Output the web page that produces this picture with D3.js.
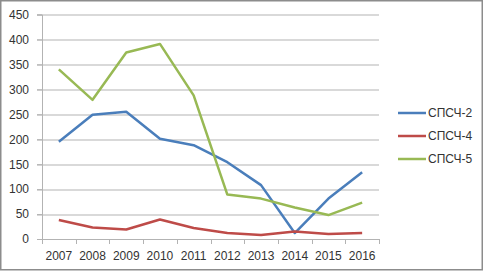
<!DOCTYPE html>
<html>
<head>
<meta charset="utf-8">
<script src="https://cdn.jsdelivr.net/npm/d3@7"></script>
<style>
  body { margin: 0; background: #fff; }
  svg { display: block; font-family: "Liberation Sans", Arial, sans-serif; }
</style>
</head>
<body>
<div id="chart"></div>
<script>
// data
const years = ["2007","2008","2009","2010","2011","2012","2013","2014","2015","2016"];
const spsch2 = [195, 249, 255, 201, 188, 154, 108, 12, 81, 134];
const spsch4 = [38, 23, 19, 39, 22, 12, 8, 15, 10, 12];
const spsch5 = [340, 279, 374, 391, 288, 89, 81, 63, 48, 73];
const yTicks = [0, 50, 100, 150, 200, 250, 300, 350, 400, 450];

const series = [
  { name: "СПСЧ-2", values: spsch2, color: "#4a7ebb" },
  { name: "СПСЧ-4", values: spsch4, color: "#be4b48" },
  { name: "СПСЧ-5", values: spsch5, color: "#98b954" }
];

const W = 483, H = 272;
const margin = { top: 14.5, right: 104, bottom: 33, left: 42 };
const width = W - margin.left - margin.right,
  height = H - margin.top - margin.bottom;

const root = d3.select("#chart").append("svg")
  .attr("width", W)
  .attr("height", H);

// outer frame
root.append("rect")
  .attr("x", 0.75).attr("y", 0.75)
  .attr("width", W - 1.5).attr("height", H - 3)
  .attr("fill", "#fff")
  .attr("stroke", "#8c8c8c")
  .attr("stroke-width", 1.5);

const svg = root.append("g")
  .attr("transform", `translate(${margin.left},${margin.top})`);

const x = d3.scaleBand().domain(years).range([0, width]);
const y = d3.scaleLinear().domain([0, 450]).range([height, 0]);

// gridlines
svg.append("g")
  .selectAll("line")
  .data(yTicks.filter(d => d > 0))
  .enter().append("line")
  .attr("x1", -5).attr("x2", width)
  .attr("y1", d => Math.round(y(d)) + 0.5)
  .attr("y2", d => Math.round(y(d)) + 0.5)
  .attr("stroke", "#b3b3b3");

// y axis
const yAxis = svg.append("g")
  .call(d3.axisLeft(y).tickValues(yTicks).tickSize(5).tickPadding(8));
yAxis.select(".domain").attr("stroke", "#b3b3b3");
yAxis.selectAll(".tick line").attr("stroke", "#b3b3b3");
yAxis.selectAll("text").attr("font-size", "12px").attr("fill", "#333");

// x axis: ticks between categories
const xg = svg.append("g").attr("transform", `translate(0,${height})`);
xg.append("line")
  .attr("x1", 0).attr("x2", width)
  .attr("y1", 0.5).attr("y2", 0.5)
  .attr("stroke", "#b3b3b3");
xg.selectAll(".sep")
  .data(years.concat([null]))
  .enter().append("line")
  .attr("x1", (d, i) => Math.round(i * x.step()) + 0.5)
  .attr("x2", (d, i) => Math.round(i * x.step()) + 0.5)
  .attr("y1", 0).attr("y2", 5)
  .attr("stroke", "#b3b3b3");
xg.selectAll("text")
  .data(years)
  .enter().append("text")
  .attr("x", d => x(d) + x.bandwidth() / 2)
  .attr("y", 21)
  .attr("text-anchor", "middle")
  .attr("font-size", "12px")
  .attr("fill", "#333")
  .text(d => d);

// lines
const line = d3.line()
  .x((d, i) => x(years[i]) + x.bandwidth() / 2)
  .y(d => y(d));

series.forEach(s => {
  svg.append("path")
    .datum(s.values)
    .attr("fill", "none")
    .attr("stroke", s.color)
    .attr("stroke-width", 2.5)
    .attr("stroke-linejoin", "round")
    .attr("d", line);
});

// legend
const legend = root.append("g").attr("transform", "translate(398,113)");
series.forEach((s, i) => {
  const g = legend.append("g").attr("transform", `translate(0,${i * 23})`);
  g.append("line")
    .attr("x1", 0).attr("x2", 28)
    .attr("stroke", s.color)
    .attr("stroke-width", 2.5);
  g.append("text")
    .attr("x", 30).attr("y", 4)
    .attr("font-size", "12px")
    .attr("fill", "#333")
    .text(s.name);
});
</script>
</body>
</html>
